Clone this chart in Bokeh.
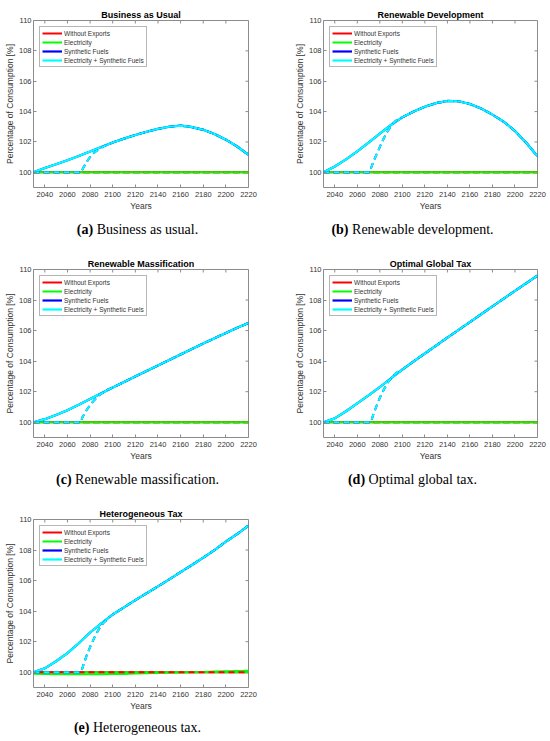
from bokeh.plotting import figure
from bokeh.layouts import column, row
from bokeh.models import Range1d, Legend, LegendItem, Div
from bokeh.embed import file_html
from bokeh.resources import INLINE

# ---------------- data ----------------
YEARS = [2030, 2040, 2050, 2060, 2070, 2080, 2090, 2100, 2110, 2120,
         2130, 2140, 2150, 2160, 2170, 2180, 2190, 2200, 2210, 2220]
X_TICKS = [2040, 2060, 2080, 2100, 2120, 2140, 2160, 2180, 2200, 2220]
Y_TICKS = [100, 102, 104, 106, 108, 110]

WITHOUT_EXPORTS = [100.0] * len(YEARS)
ELECTRICITY_FLAT = [100.0] * len(YEARS)

# (a) Business as Usual
BAU_CURVE = [100.0, 100.28, 100.53, 100.8, 101.08, 101.37, 101.67, 101.96, 102.22, 102.46,
             102.67, 102.86, 103.0, 103.07, 102.98, 102.8, 102.52, 102.15, 101.7, 101.15]
BAU_DASH_YEARS = [2030, 2072, 2074, 2078, 2082, 2086, 2090, 2095]
BAU_DASH_VALUES = [100.0, 100.0, 100.3, 100.8, 101.2, 101.42, 101.62, 101.82]

# (b) Renewable Development
RD_CURVE = [100.0, 100.38, 100.85, 101.38, 101.95, 102.55, 103.12, 103.62, 104.0, 104.32,
            104.56, 104.7, 104.68, 104.5, 104.2, 103.8, 103.33, 102.72, 101.95, 101.05]
RD_DASH_YEARS = [2030, 2071, 2073, 2076, 2079, 2082, 2086, 2090, 2094, 2098]
RD_DASH_VALUES = [100.0, 100.0, 100.45, 101.0, 101.5, 102.0, 102.6, 103.05, 103.38, 103.58]

# (c) Renewable Massification
RM_CURVE = [100.0, 100.2, 100.47, 100.79, 101.15, 101.52, 101.9, 102.27, 102.63, 103.0,
            103.36, 103.72, 104.08, 104.44, 104.8, 105.15, 105.5, 105.84, 106.18, 106.5]
RM_DASH_YEARS = [2030, 2072, 2073, 2077, 2081, 2085, 2089, 2094]
RM_DASH_VALUES = [100.0, 100.0, 100.3, 100.8, 101.22, 101.55, 101.82, 102.08]

# (d) Optimal Global Tax
OGT_CURVE = [100.0, 100.25, 100.72, 101.24, 101.76, 102.3, 102.88, 103.45, 103.98, 104.5,
             105.02, 105.54, 106.05, 106.56, 107.07, 107.58, 108.09, 108.6, 109.1, 109.6]
OGT_DASH_YEARS = [2030, 2072, 2074, 2077, 2080, 2084, 2088, 2092, 2096]
OGT_DASH_VALUES = [100.0, 100.0, 100.45, 101.05, 101.6, 102.2, 102.7, 103.05, 103.3]

# (e) Heterogeneous Tax
HT_CURVE = [100.0, 100.25, 100.72, 101.25, 101.9, 102.6, 103.2, 103.78, 104.25, 104.72,
            105.17, 105.62, 106.08, 106.55, 107.02, 107.5, 108.0, 108.55, 109.05, 109.6]
HT_DASH_YEARS = [2030, 2072, 2074, 2077, 2080, 2084, 2088, 2092, 2096]
HT_DASH_VALUES = [100.0, 100.0, 100.45, 101.1, 101.65, 102.3, 102.85, 103.25, 103.52]
HT_ELECTRICITY = [99.9, 99.88, 99.87, 99.86, 99.86, 99.86, 99.87, 99.88, 99.89, 99.91,
                  99.93, 99.95, 99.97, 99.99, 100.0, 100.02, 100.04, 100.06, 100.08, 100.1]

TITLES = ["Business as Usual", "Renewable Development", "Renewable Massification",
          "Optimal Global Tax", "Heterogeneous Tax"]
LETTERS = ["(a)", "(b)", "(c)", "(d)", "(e)"]
CAPTIONS = ["Business as usual.", "Renewable development.", "Renewable massification.",
            "Optimal global tax.", "Heterogeneous tax."]
SERIES_NAMES = ["Without Exports", "Electricity", "Synthetic Fuels", "Electricity + Synthetic Fuels"]
SERIES_COLORS = ["#ff0000", "#00ff00", "#0000ff", "#00ffff"]

# ---------------- styling ----------------
SANS = "Liberation Sans"
FRAME = "#8c8c8c"
TXT = "#333333"
DASH = "6 4"
X_MIN, X_MAX, Y_MIN, Y_MAX = 2030, 2220, 99, 110
TICK_PX = 3
COL_W = 275


def make_panel(idx, curve, dash_years, dash_vals, elec, height, left_b, right_b, top_b,
               bottom_b, frame_w, frame_h, hetero=False):
    p = figure(width=COL_W, height=height, x_range=Range1d(X_MIN, X_MAX), y_range=Range1d(Y_MIN, Y_MAX),
               output_backend="svg", toolbar_location=None,
               min_border_left=left_b, min_border_right=right_b,
               min_border_top=top_b, min_border_bottom=bottom_b)
    p.background_fill_color = "white"
    p.border_fill_color = "white"
    p.outline_line_color = FRAME
    p.outline_line_width = 1
    p.grid.grid_line_color = None

    p.title.text = TITLES[idx]
    p.title.align = "center"
    p.title.text_font = SANS
    p.title.text_font_size = "9px"
    p.title.text_font_style = "bold"
    p.title.text_color = "black"
    p.title.standoff = 1
    p.title.offset = 0

    p.xaxis.ticker = X_TICKS
    p.yaxis.ticker = Y_TICKS
    p.xaxis.axis_label = "Years"
    p.yaxis.axis_label = "Percentage of Consumption [%]"
    for ax in (p.xaxis[0], p.yaxis[0]):
        ax.axis_line_color = None
        ax.major_tick_in = TICK_PX
        ax.major_tick_out = 0
        ax.major_tick_line_color = FRAME
        ax.minor_tick_line_color = None
        ax.major_label_text_font = SANS
        ax.major_label_text_font_size = "7.5px"
        ax.major_label_text_color = TXT
        ax.major_label_standoff = 2
        ax.axis_label_text_font = SANS
        ax.axis_label_text_font_size = "8.5px"
        ax.axis_label_text_font_style = "normal"
        ax.axis_label_text_color = TXT
        ax.axis_label_standoff = 1
    p.xaxis.major_label_standoff = 4

    # inward tick marks on the top and right edges of the box
    ty = TICK_PX * (Y_MAX - Y_MIN) / frame_h
    tx = TICK_PX * (X_MAX - X_MIN) / frame_w
    p.segment(x0=X_TICKS, y0=[Y_MAX] * len(X_TICKS), x1=X_TICKS, y1=[Y_MAX - ty] * len(X_TICKS),
              line_color=FRAME, line_width=1)
    p.segment(x0=[X_MAX] * len(Y_TICKS), y0=Y_TICKS, x1=[X_MAX - tx] * len(Y_TICKS), y1=Y_TICKS,
              line_color=FRAME, line_width=1)

    r_red = p.line(YEARS, WITHOUT_EXPORTS, line_color=SERIES_COLORS[0], line_width=2)
    r_green = p.line(YEARS, elec, line_color=SERIES_COLORS[1], line_width=2)
    if hetero:
        p.line(YEARS, ELECTRICITY_FLAT, line_color=SERIES_COLORS[1], line_width=2, line_dash=DASH)
        p.line(YEARS, WITHOUT_EXPORTS, line_color=SERIES_COLORS[0], line_width=2, line_dash=DASH,
               line_dash_offset=5)
    else:
        p.line(YEARS, WITHOUT_EXPORTS, line_color=SERIES_COLORS[0], line_width=2, line_dash=DASH)
        p.line(YEARS, elec, line_color=SERIES_COLORS[1], line_width=2, line_dash=DASH)
    r_blue = p.line(YEARS, curve, line_color=SERIES_COLORS[2], line_width=2.2)
    r_cyan = p.line(YEARS, curve, line_color=SERIES_COLORS[3], line_width=2.2)
    dx = dash_years + YEARS[7:]
    dy = dash_vals + curve[7:]
    p.line(dx, dy, line_color=SERIES_COLORS[2], line_width=2, line_dash=DASH)
    p.line(dx, dy, line_color=SERIES_COLORS[3], line_width=2, line_dash=DASH)

    legend = Legend(items=[LegendItem(label=SERIES_NAMES[0], renderers=[r_red]),
                           LegendItem(label=SERIES_NAMES[1], renderers=[r_green]),
                           LegendItem(label=SERIES_NAMES[2], renderers=[r_blue]),
                           LegendItem(label=SERIES_NAMES[3], renderers=[r_cyan])],
                    location="top_left")
    legend.label_text_font = SANS
    legend.label_text_font_size = "6.5px"
    legend.label_text_color = TXT
    legend.label_height = 8
    legend.glyph_height = 8
    legend.glyph_width = 20
    legend.label_standoff = 2
    legend.spacing = 1
    legend.padding = 2
    legend.margin = 6
    legend.border_line_color = "#6e6e6e"
    legend.border_line_width = 0.8
    legend.background_fill_color = "white"
    legend.background_fill_alpha = 1.0
    p.add_layout(legend)
    return p


def caption(idx, height, pad_top):
    html = ('<div style="width:%dpx;height:%dpx;overflow:visible;white-space:nowrap;'
            'text-align:center;font-family:\'Liberation Serif\',serif;font-size:14px;'
            'line-height:15px;padding:%gpx 0 0 0;box-sizing:border-box;color:#000;">'
            '<b>%s</b> %s</div>') % (COL_W, height, pad_top, LETTERS[idx], CAPTIONS[idx])
    return Div(text=html, width=COL_W, height=height, margin=0)


# left column: frame x 33..248 ; right column: frame x 323..537
pa = make_panel(0, BAU_CURVE, BAU_DASH_YEARS, BAU_DASH_VALUES, ELECTRICITY_FLAT,
                215, 33, 27, 20, 28, 215, 167)
pb = make_panel(1, RD_CURVE, RD_DASH_YEARS, RD_DASH_VALUES, ELECTRICITY_FLAT,
                215, 48, 13, 20, 28, 214, 167)
pc = make_panel(2, RM_CURVE, RM_DASH_YEARS, RM_DASH_VALUES, ELECTRICITY_FLAT,
                216, 33, 27, 20, 28, 215, 168)
pd = make_panel(3, OGT_CURVE, OGT_DASH_YEARS, OGT_DASH_VALUES, ELECTRICITY_FLAT,
                216, 48, 13, 20, 28, 214, 168)
pe = make_panel(4, HT_CURVE, HT_DASH_YEARS, HT_DASH_VALUES, HT_ELECTRICITY,
                216, 33, 27, 20, 28, 215, 168, hetero=True)

ca = caption(0, 34, 6.5)
cb = caption(1, 34, 6.5)
cc = caption(2, 34, 6.5)
cd = caption(3, 34, 6.5)
ce = caption(4, 24, 4.5)

layout = column(row(column(pa, ca), column(pb, cb)),
                row(column(pc, cc), column(pd, cd)),
                column(pe, ce))
open("out.html", "w").write(file_html(layout, INLINE))
